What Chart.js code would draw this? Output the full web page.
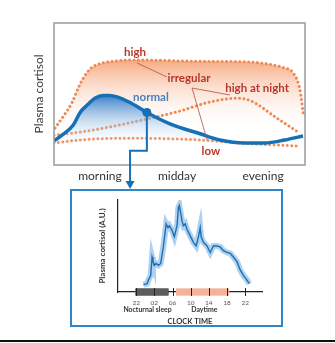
<!DOCTYPE html>
<html>
<head>
<meta charset="utf-8">
<script src="https://cdn.jsdelivr.net/npm/chart.js@4.4.1/dist/chart.umd.min.js"></script>
<style>
  html, body { margin: 0; padding: 0; background: #fff; }
  #page { position: relative; width: 335px; height: 343px; overflow: hidden; }
  #profileChart { position: absolute; left: 0; top: 0; }
  #inset { position: absolute; left: 70px; top: 189px; width: 209px; height: 134px; border: 2px solid #2f86c6; }
  #clockChart { position: absolute; left: 0; top: 0; }
  #bottomLine { position: absolute; left: 0; top: 340px; width: 335px; height: 2px; background: #111; }
</style>
</head>
<body>
<div id="page">
  <canvas id="profileChart" width="335" height="192"></canvas>
  <div id="inset"><canvas id="clockChart" width="209" height="134"></canvas></div>
  <div id="bottomLine"></div>
</div>
<script>
// ===== Top panel: cortisol profile patterns (time of day 0-100, level 0-100) =====
const normalX = [0, 3.2, 7.6, 10.4, 13.1, 16.3, 19.5, 22.3, 25.1, 30.3, 37, 46.2, 58.2, 66.1, 76, 84, 92, 99.2];
const normalY = [17, 21, 28, 37, 42, 47, 49, 49, 48, 44, 37, 29, 22, 17.6, 15.5, 15.5, 17.6, 20.4];

const highX = [0.4, 4, 7.2, 9.6, 11.6, 14.3, 17, 23.5, 32, 58, 78, 87, 91.5, 95.2, 98, 99.4];
const highY = [26, 35, 44, 54, 61, 67.5, 70.5, 73, 74, 73, 72.5, 70.5, 68.5, 65, 53, 35];

const nightX = [0, 10.4, 22.3, 37, 50.2, 62.2, 72.9, 78, 88.8, 97.2];
const nightY = [21, 23.2, 26.8, 32.4, 38, 44.4, 47, 45.5, 33, 23.2];

const lowX = [0, 10.4, 26.3, 42.2, 58.2, 78, 97.2];
const lowY = [15.5, 17.6, 18.8, 18.6, 17.6, 15, 13.4];

const markX = [37];
const markY = [37];

const periodLabels = ["morning", "midday", "evening"];
const periodTicks = [18.3, 49, 83.3];

// ===== Inset: measured profile over the clock (hours, 22 = 22:00, 26 = 02:00 next day) =====
const clockHours = [23.6, 24.4, 24.7, 25.2, 25.5, 25.7, 26.0, 26.4, 26.9, 27.4, 28.0, 28.6, 29.0, 29.3, 29.9,
  30.4, 31.0, 31.3, 31.5, 31.9, 32.1, 32.4, 32.8, 33.2, 33.9, 34.6, 35.2, 35.7, 36.1, 36.3, 36.8, 37.6,
  38.3, 39.0, 39.8, 40.5, 41.2, 42.0, 42.7, 43.4, 44.2, 44.9, 45.6, 46.4, 46.9];
const cortisolAU = [8, 9, 13, 18, 38, 34, 29, 31, 29, 31, 50, 74, 70, 72, 67,
  60, 72, 92, 94, 83, 77, 72, 74, 68, 61, 54, 50, 60, 70, 60, 54, 50,
  43, 50, 50, 49, 45, 43, 42, 38, 33, 24, 18, 13, 9];

const clockTicks = [22, 26, 30, 34, 38, 42, 46];
const tickLabels = ["22", "02", "06", "10", "14", "18", "22"];
const sleepSpan = [21.8, 29.1];
const daySpan = [30.75, 42.45];

const pts = (xs, ys) => xs.map((x, i) => ({ x: x, y: ys[i] }));

const blue = "#1670b6";
const orange = "#ee8a52";
const red = "#b8372c";
const font = "Lato";

// vertical gradients, built once the chart area is known
function fade(top, bottom, c1, c2) {
  return (context) => {
    const chart = context.chart;
    if (!chart.chartArea) return null;
    const y = chart.scales.y;
    const g = chart.ctx.createLinearGradient(0, y.getPixelForValue(top), 0, y.getPixelForValue(bottom));
    g.addColorStop(0, c1);
    g.addColorStop(1, c2);
    return g;
  };
}

const dotted = {
  borderColor: orange,
  borderWidth: 3,
  borderDash: [0.01, 4.4],
  borderCapStyle: "round",
  pointRadius: 0,
  fill: false,
  cubicInterpolationMode: "monotone",
};

const notes = [
  { text: "high", x: 32.3, y: 79.6, color: red },
  { text: "irregular", x: 53.8, y: 61.3, color: red },
  { text: "high at night", x: 80.9, y: 54.2, color: red },
  { text: "normal", x: 38.6, y: 47.9, color: "#4c7fb9" },
  { text: "low", x: 62.5, y: 9.9, color: red },
];
const leaders = [[45, 62, 33.1, 71.8], [55, 54.2, 70.1, 49.3], [55, 54.2, 61, 17.6]];

const topDecor = {
  id: "topDecor",
  afterDatasetsDraw(chart) {
    const { ctx, chartArea, scales: { x, y } } = chart;
    ctx.save();
    // leader lines
    ctx.strokeStyle = "#b0503f";
    ctx.lineWidth = 0.8;
    leaders.forEach(l => {
      ctx.beginPath();
      ctx.moveTo(x.getPixelForValue(l[0]), y.getPixelForValue(l[1]));
      ctx.lineTo(x.getPixelForValue(l[2]), y.getPixelForValue(l[3]));
      ctx.stroke();
    });
    // labels
    ctx.font = "bold 11.5px " + font;
    ctx.textAlign = "center";
    ctx.textBaseline = "middle";
    notes.forEach(n => {
      ctx.fillStyle = n.color;
      ctx.fillText(n.text, x.getPixelForValue(n.x), y.getPixelForValue(n.y));
    });
    // frame
    ctx.strokeStyle = "#9a9a9a";
    ctx.lineWidth = 1.5;
    ctx.strokeRect(chartArea.left, chartArea.top, chartArea.right - chartArea.left, chartArea.bottom - chartArea.top);
    ctx.restore();
  },
  afterDraw(chart) {
    const { ctx, scales: { x, y } } = chart;
    const p = chart.getDatasetMeta(0).data[0];
    const xTurn = x.getPixelForValue(30.3);
    const yTurn = y.getPixelForValue(10);
    ctx.save();
    ctx.strokeStyle = blue;
    ctx.fillStyle = blue;
    ctx.lineWidth = 2;
    ctx.beginPath();
    ctx.moveTo(p.x, p.y);
    ctx.lineTo(p.x, yTurn);
    ctx.lineTo(xTurn, yTurn);
    ctx.lineTo(xTurn, 182);
    ctx.stroke();
    ctx.beginPath();
    ctx.moveTo(xTurn - 4.5, 181);
    ctx.lineTo(xTurn + 4.5, 181);
    ctx.lineTo(xTurn, 189);
    ctx.closePath();
    ctx.fill();
    ctx.restore();
  },
};

new Chart(document.getElementById("profileChart"), {
  type: "line",
  data: {
    datasets: [
      { type: "scatter", label: "marker", data: pts(markX, markY), pointRadius: 4.5, pointBackgroundColor: blue, pointBorderWidth: 0, showLine: false },
      { label: "normal", data: pts(normalX, normalY), borderColor: blue, borderWidth: 3.5, pointRadius: 0,
        cubicInterpolationMode: "monotone", fill: "origin",
        backgroundColor: fade(49, 12, "rgba(45,124,204,0.95)", "rgba(255,255,255,0)") },
      Object.assign({ label: "low", data: pts(lowX, lowY) }, dotted),
      Object.assign({ label: "high at night", data: pts(nightX, nightY) }, dotted),
      Object.assign({ label: "high", data: pts(highX, highY) }, dotted, {
        fill: "origin",
        backgroundColor: fade(74, 24, "rgba(245,160,115,0.9)", "rgba(255,255,255,0)") }),
    ],
  },
  options: {
    responsive: false,
    animation: false,
    layout: { padding: { left: 0, top: 23, right: 30, bottom: 0 } },
    plugins: { legend: { display: false }, tooltip: { enabled: false } },
    scales: {
      x: {
        type: "linear", min: 0, max: 100,
        grid: { display: false, drawTicks: false },
        border: { display: false },
        afterFit: s => { s.height = 27; },
        afterBuildTicks: s => { s.ticks = periodTicks.map(v => ({ value: v })); },
        ticks: { callback: (v, i) => periodLabels[i], color: "#333", font: { family: font, size: 12 },
          padding: 4, maxRotation: 0, autoSkip: false },
      },
      y: {
        min: 0, max: 100,
        grid: { display: false, drawTicks: false },
        border: { display: false },
        ticks: { display: false },
        afterFit: s => { s.width = 54; },
        title: { display: true, text: "Plasma cortisol", color: "#3a3a3a", font: { family: font, size: 12 },
          padding: { top: 32, bottom: 0 } },
      },
    },
  },
  plugins: [topDecor],
});

// ===== Inset chart =====
const insetDecor = {
  id: "insetDecor",
  afterDraw(chart) {
    const { ctx, scales: { x, y } } = chart;
    const base = y.getPixelForValue(0);
    ctx.save();
    ctx.strokeStyle = "#222";
    ctx.lineWidth = 1;
    clockTicks.forEach(v => {
      const px = Math.round(x.getPixelForValue(v)) + 0.5;
      ctx.beginPath();
      ctx.moveTo(px, base - 4);
      ctx.lineTo(px, base + 4);
      ctx.stroke();
    });
    ctx.fillStyle = "#333";
    ctx.font = "bold 6.9px " + font;
    ctx.textAlign = "center";
    ctx.textBaseline = "middle";
    ctx.fillText("Nocturnal sleep", x.getPixelForValue(24.5), base + 18);
    ctx.fillText("Daytime", x.getPixelForValue(37), base + 18);
    ctx.restore();
  },
};

new Chart(document.getElementById("clockChart"), {
  type: "line",
  data: {
    datasets: [
      { label: "cortisol", data: pts(clockHours, cortisolAU), borderColor: "#1b6fb7", borderWidth: 1.4, pointRadius: 0, tension: 0 },
      { label: "band", data: pts(clockHours, cortisolAU), borderColor: "rgba(110,172,226,0.55)", borderWidth: 6, pointRadius: 0, tension: 0 },
      { type: "bar", label: "periods", indexAxis: "y",
        data: [{ x: sleepSpan, y: 0 }, { x: daySpan, y: 0 }],
        backgroundColor: ["#5c5c5c", "#f4b29a"],
        borderColor: ["#333", "#f4b29a"], borderWidth: 0.6, barThickness: 7, clip: false },
    ],
  },
  options: {
    responsive: false,
    animation: false,
    layout: { padding: { left: 0, top: 9, right: 19, bottom: 0 } },
    plugins: { legend: { display: false }, tooltip: { enabled: false } },
    scales: {
      x: {
        type: "linear", min: 18, max: 49.7, z: 1, offset: false,
        grid: { display: false, drawTicks: false, offset: false },
        border: { display: true, color: "#222", width: 1.3 },
        afterFit: s => { s.height = 33; },
        afterBuildTicks: s => { s.ticks = clockTicks.map(v => ({ value: v })); },
        ticks: { callback: (v, i) => tickLabels[i], color: "#555", font: { family: font, size: 6.5 },
          padding: 7, maxRotation: 0, autoSkip: false },
        title: { display: true, text: "CLOCK TIME", color: "#333", font: { family: font, size: 7.5, weight: "bold" },
          padding: { top: 0, bottom: -1.5 } },
      },
      y: {
        type: "linear", min: 0, max: 100, offset: false,
        grid: { display: false, drawTicks: false, offset: false },
        border: { display: true, color: "#222", width: 1.2 },
        ticks: { display: false },
        afterFit: s => { s.width = 46; },
        title: { display: true, text: "Plasma cortisol (A.U.)", color: "#333", font: { family: font, size: 8, weight: "bold" },
          padding: { top: 26, bottom: 0 } },
      },
    },
  },
  plugins: [insetDecor],
});
</script>
</body>
</html>
